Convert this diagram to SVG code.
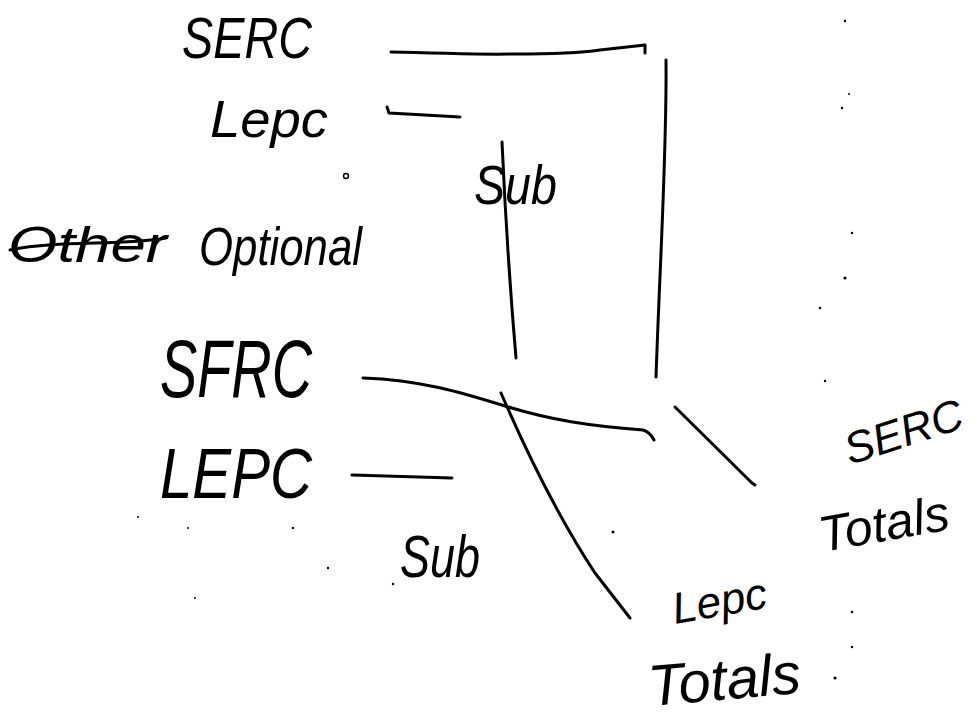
<svg xmlns="http://www.w3.org/2000/svg" width="978" height="726" viewBox="0 0 978 726">
<style>
.ln{fill:none;stroke:#000;stroke-width:3;stroke-linecap:round;stroke-linejoin:round}
.t{font-family:"Liberation Sans","DejaVu Sans",sans-serif;font-style:italic;fill:#000}
.dot{fill:#000}
</style>
<rect width="978" height="726" fill="#fff"/>
<g id="serc-top"><text class="t" x="182" y="58" font-size="58" textLength="130" lengthAdjust="spacingAndGlyphs">SERC</text></g>
<g id="lepc-top"><text class="t" x="210" y="137" font-size="52" textLength="118" lengthAdjust="spacingAndGlyphs">Lepc</text></g>
<g id="other-struck"><text class="t" x="8" y="262" font-size="50" textLength="159" lengthAdjust="spacingAndGlyphs">Other</text><path class="ln" d="M10,250 C60,240 120,246 166,238" stroke-width="2.5"/></g>
<g id="optional"><text class="t" x="199" y="265" font-size="54" textLength="163" lengthAdjust="spacingAndGlyphs">Optional</text></g>
<g id="sub-top"><text class="t" x="474" y="204" font-size="56" textLength="83" lengthAdjust="spacingAndGlyphs">Sub</text></g>
<g id="sfrc"><text class="t" x="160" y="397" font-size="82" textLength="152" lengthAdjust="spacingAndGlyphs">SFRC</text></g>
<g id="lepc-bottom"><text class="t" x="160" y="498" font-size="70" textLength="152" lengthAdjust="spacingAndGlyphs">LEPC</text></g>
<g id="sub-bottom"><text class="t" x="400" y="577" font-size="60" textLength="80" lengthAdjust="spacingAndGlyphs">Sub</text></g>
<g id="serc-totals">
<g transform="translate(850 465) rotate(-18)"><text class="t" x="0" y="0" font-size="44">SERC</text></g>
<g transform="translate(822 552) rotate(-10)"><text class="t" x="0" y="0" font-size="50">Totals</text></g>
</g>
<g id="lepc-totals">
<g transform="translate(675 624) rotate(-10)"><text class="t" x="0" y="0" font-size="44">Lepc</text></g>
<g transform="translate(650 706) rotate(-5)"><text class="t" x="0" y="0" font-size="58">Totals</text></g>
</g>
<g id="connectors">
<path class="ln" d="M391,52 C450,53 480,55 513,54 C550,54 580,53 600,50 L645,45 L645,53"/>
<path class="ln" d="M387,107 L389,113 L460,117"/>
<path class="ln" d="M502,142 C506,230 511,300 516,358"/>
<path class="ln" d="M666,60 C667,150 660,260 656,377"/>
<path class="ln" d="M363,378 C420,380 460,392 505,406 C550,420 590,426 643,430 Q650,432 654,440"/>
<path class="ln" d="M352,475 L452,478"/>
<path class="ln" d="M501,393 C530,460 560,520 595,573 L630,618"/>
<path class="ln" d="M675,407 L752,483 L755,485"/>
</g>
<g id="specks">
<circle cx="346" cy="176" r="2.5" fill="none" stroke="#000" stroke-width="1.5"/>
<circle class="dot" cx="613" cy="532" r="1.5"/>
<circle class="dot" cx="845" cy="21" r="1.2"/>
<circle class="dot" cx="849" cy="94" r="1"/>
<circle class="dot" cx="842" cy="108" r="1.2"/>
<circle class="dot" cx="852" cy="233" r="1.2"/>
<circle class="dot" cx="845" cy="278" r="1.6"/>
<circle class="dot" cx="820" cy="308" r="1.2"/>
<circle class="dot" cx="825" cy="381" r="1.2"/>
<circle class="dot" cx="852" cy="612" r="1.2"/>
<circle class="dot" cx="852" cy="647" r="1.2"/>
<circle class="dot" cx="835" cy="678" r="1.6"/>
<circle class="dot" cx="138" cy="517" r="1"/>
<circle class="dot" cx="188" cy="528" r="1"/>
<circle class="dot" cx="293" cy="528" r="1.2"/>
<circle class="dot" cx="328" cy="568" r="1.2"/>
<circle class="dot" cx="393" cy="584" r="1.2"/>
<circle class="dot" cx="195" cy="598" r="1"/>
</g>
</svg>
